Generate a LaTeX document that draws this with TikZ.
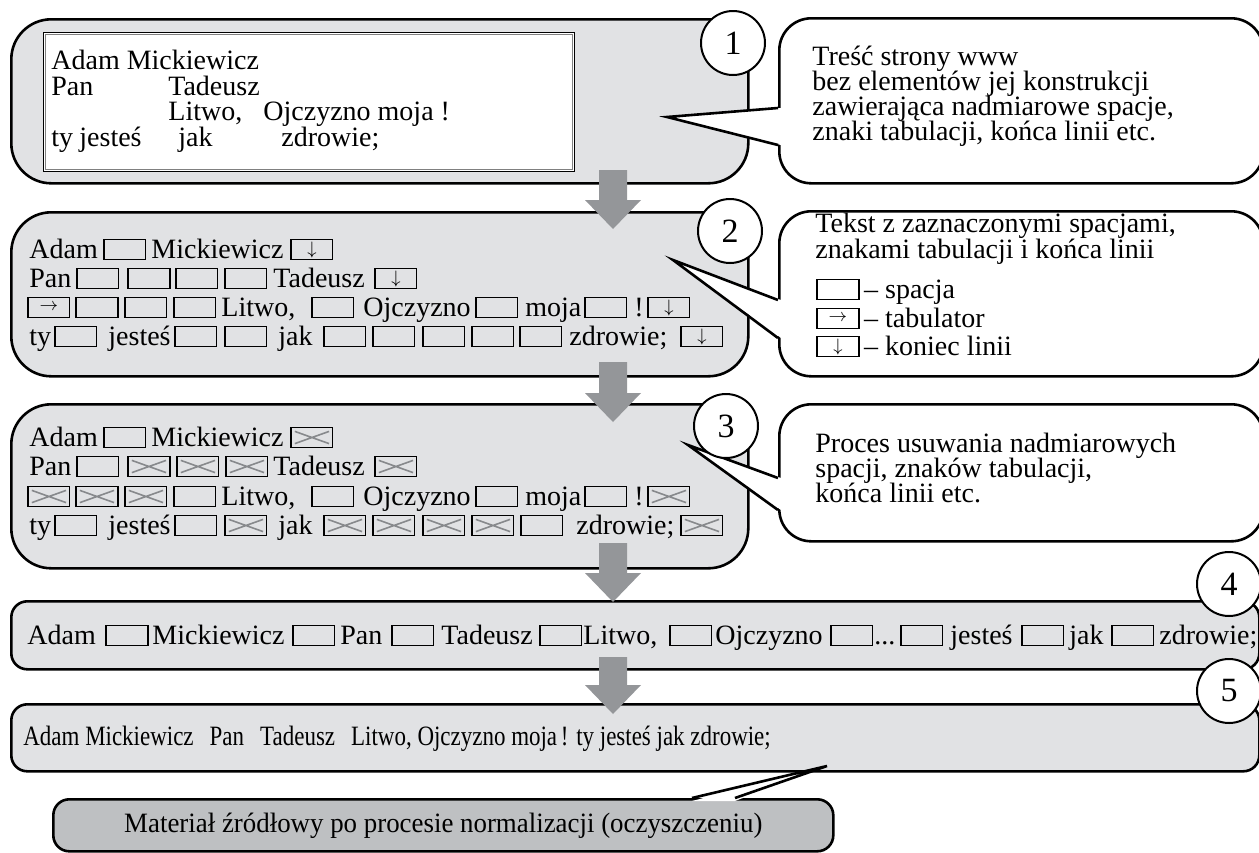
\documentclass[tikz,border=0pt]{standalone}
\usepackage{fontspec}
\usepackage{graphicx}
\setmainfont{Liberation Serif}
\usetikzlibrary{positioning}

\definecolor{panelgray}{RGB}{225,226,228}
\definecolor{arrowgray}{RGB}{148,150,153}
\definecolor{notegray}{RGB}{190,192,194}
\definecolor{crossgray}{RGB}{135,137,140}

% one pixel of the layout grid
\newlength\pxu \setlength\pxu{0.5pt}
\newcommand\putat[2]{\rlap{\hspace*{#1\pxu}#2}}
% marked characters
\newcommand\spcbox{\tikz[baseline=1pt]\draw[line width=0.65pt] (0.3pt,0.3pt) rectangle (21.2pt,10.2pt);}
\newcommand\delbox{\tikz[baseline=1pt]{\draw[line width=0.65pt] (0.3pt,0.3pt) rectangle (21.2pt,10.2pt);
  \draw[crossgray, line width=0.8pt] (2.2pt,8.3pt) -- (19.3pt,2.2pt) (2.2pt,2.2pt) -- (19.3pt,8.3pt);}}
\newcommand\tabkey{\tikz[baseline=1pt]{\draw[line width=0.65pt] (0.3pt,0.3pt) rectangle (21.2pt,10.2pt);
  \node[anchor=center, inner sep=0pt, font=\fontsize{9}{9}\selectfont] at (10.75pt,5.4pt) {$\rightarrow$};}}
\newcommand\eolkey{\tikz[baseline=1pt]{\draw[line width=0.65pt] (0.3pt,0.3pt) rectangle (21.2pt,10.2pt);
  \node[anchor=center, inner sep=0pt, font=\fontsize{9}{9}\selectfont] at (10.75pt,5.2pt) {$\downarrow$};}}

\begin{document}
\begin{tikzpicture}[x=0.5pt, y=-0.5pt, font=\fontsize{14}{13}\selectfont,
    panel/.style={draw, line width=1.3pt, fill=panelgray, inner sep=0pt, anchor=north west},
    note/.style={draw, line width=1.3pt, fill=white, rounded corners=16pt, inner sep=0pt, anchor=north west},
    num/.style={circle, draw, line width=1pt, fill=white, minimum size=32pt, inner sep=0pt, font=\fontsize{17}{17}\selectfont},
    rowtxt/.style={anchor=base west, inner sep=0pt},
    pointer/.style={line width=1.3pt}]
    \useasboundingbox (0,0) rectangle (1259,852);

    % panels
    \node[panel, rounded corners=20pt, minimum width=368.5pt, minimum height=82pt] (p1) at (10,18) {};
    \node[panel, rounded corners=20pt, minimum width=368.5pt, minimum height=82pt] (p2) at (10,211) {};
    \node[panel, rounded corners=20pt, minimum width=368.5pt, minimum height=82pt] (p3) at (10,403) {};
    \node[panel, rounded corners=8pt, minimum width=624pt, minimum height=34pt] (p4) at (10,600) {};
    \node[panel, rounded corners=8pt, minimum width=624pt, minimum height=33.5pt] (p5) at (10,703) {};

    \node[draw, line width=0.6pt, fill=white, anchor=north west, minimum width=265.5pt, minimum height=69.5pt] (src) at (43,32) {};
    \draw[gray, line width=0.4pt] ([shift={(1.2pt,-1.2pt)}]src.north west) rectangle ([shift={(-1.2pt,1.2pt)}]src.south east);

    % flow arrows
    \foreach \ya/\yb in {170/229, 362/422, 543/602, 657/714}
        \fill[arrowgray] (599,\ya) -- (627,\ya) -- (627,\yb-29) -- (641,\yb-29) -- (613,\yb) -- (585,\yb-29) -- (599,\yb-29) -- cycle;

    % callouts
    \node[note, minimum width=242pt, minimum height=82.5pt] (c1) at (778,17) {};
    \node[note, minimum width=242pt, minimum height=82.5pt] (c2) at (778,210) {};
    \node[note, minimum width=242pt, minimum height=68.5pt] (c3) at (778,403) {};
    \node[note, fill=notegray, rounded corners=8pt, minimum width=390pt, minimum height=26pt] (c4) at (52,798)
        {\scalebox{0.96}[1]{Materiał źródłowy po procesie normalizacji (oczyszczeniu)}};

    \fill[white] (781,108) -- (667,117) -- (781,145) -- cycle;
    \draw[pointer] (778,108) -- (667,117) -- (778,145);
    \fill[white] (781,300) -- (673,260) -- (781,338) -- cycle;
    \draw[pointer] (778,300) -- (673,260) -- (778,338);
    \fill[white] (781,478) -- (688,445) -- (781,510) -- cycle;
    \draw[pointer] (778,478) -- (688,445) -- (778,510);
    \fill[white] (692,801) -- (827,766) -- (735,801) -- cycle;
    \draw[pointer] (692,798) -- (827,766) -- (735,798);

    % step numbers
    \node[num] (n1) at (733,43) {1};
    \node[num] (n2) at (730,231) {2};
    \node[num] (n3) at (726,426) {3};
    \node[num] (n4) at (1229,584) {4};
    \node[num] (n5) at (1229,691) {5};

    % step 1
    \node[rowtxt] (r1a) at (0,69) {\putat{50}{Adam Mickiewicz}};
    \node[rowtxt] (r1b) at (0,95) {\putat{50}{Pan}\putat{167}{Tadeusz}};
    \node[rowtxt] (r1c) at (0,120) {\putat{167}{Litwo,}\putat{262}{Ojczyzno moja !}};
    \node[rowtxt] (r1d) at (0,146) {\putat{50}{ty}\putat{78}{jesteś}\putat{177}{jak}\putat{280}{zdrowie;}};

    % step 2
    \node[rowtxt] (r2a) at (0,258) {\putat{28}{Adam}\putat{102}{\spcbox}\putat{150}{Mickiewicz}\putat{289}{\eolkey}};
    \node[rowtxt] (r2b) at (0,287) {\putat{28}{Pan}\putat{75}{\spcbox}\putat{126}{\spcbox}\putat{174}{\spcbox}\putat{223}{\spcbox}\putat{272}{Tadeusz}\putat{373}{\eolkey}};
    \node[rowtxt] (r2c) at (0,316) {\putat{26}{\tabkey}\putat{74}{\spcbox}\putat{123}{\spcbox}\putat{172}{\spcbox}\putat{220}{Litwo,}\putat{310}{\spcbox}\putat{362}{Ojczyzno}\putat{474}{\spcbox}\putat{524}{moja}\putat{583}{\spcbox}\putat{633}{!}\putat{646}{\eolkey}};
    \node[rowtxt] (r2d) at (0,345) {\putat{28}{ty}\putat{53}{\spcbox}\putat{107}{jesteś}\putat{173}{\spcbox}\putat{223}{\spcbox}\putat{277}{jak}\putat{322}{\spcbox}\putat{371}{\spcbox}\putat{421}{\spcbox}\putat{470}{\spcbox}\putat{518}{\spcbox}\putat{568}{zdrowie;}\putat{679}{\eolkey}};

    % step 3
    \node[rowtxt] (r3a) at (0,446) {\putat{28}{Adam}\putat{102}{\spcbox}\putat{150}{Mickiewicz}\putat{289}{\delbox}};
    \node[rowtxt] (r3b) at (0,475) {\putat{28}{Pan}\putat{75}{\spcbox}\putat{126}{\delbox}\putat{175}{\delbox}\putat{224}{\delbox}\putat{272}{Tadeusz}\putat{373}{\delbox}};
    \node[rowtxt] (r3c) at (0,505) {\putat{26}{\delbox}\putat{74}{\delbox}\putat{123}{\delbox}\putat{172}{\spcbox}\putat{220}{Litwo,}\putat{310}{\spcbox}\putat{362}{Ojczyzno}\putat{474}{\spcbox}\putat{524}{moja}\putat{583}{\spcbox}\putat{633}{!}\putat{646}{\delbox}};
    \node[rowtxt] (r3d) at (0,534) {\putat{28}{ty}\putat{53}{\spcbox}\putat{107}{jesteś}\putat{173}{\spcbox}\putat{223}{\delbox}\putat{277}{jak}\putat{322}{\delbox}\putat{371}{\delbox}\putat{421}{\delbox}\putat{470}{\delbox}\putat{519}{\spcbox}\putat{575}{zdrowie;}\putat{679}{\delbox}};

    % step 4
    \node[rowtxt] (r4) at (0,644) {\putat{26}{Adam}\putat{104}{\spcbox}\putat{151}{Mickiewicz}\putat{291}{\spcbox}\putat{339}{Pan}\putat{390}{\spcbox}\putat{440}{Tadeusz}\putat{538}{\spcbox}\putat{582}{Litwo,}\putat{668}{\spcbox}\putat{714}{Ojczyzno}\putat{829}{\spcbox}\putat{873}{...}\putat{899}{\spcbox}\putat{949}{jesteś}\putat{1020}{\spcbox}\putat{1068}{jak}\putat{1110}{\spcbox}\putat{1158}{zdrowie;}};

    % step 5
    \node[rowtxt] (r5) at (23,745) {\scalebox{0.82}[1]{Adam Mickiewicz\hspace{0.45em} Pan\hspace{0.45em} Tadeusz\hspace{0.45em} Litwo, Ojczyzno moja\,! ty jesteś jak zdrowie;}};

    % callout texts
    \node[rowtxt] (c1a) at (812,65) {Treść strony www};
    \node[rowtxt] (c1b) at (812,90) {bez elementów jej konstrukcji};
    \node[rowtxt] (c1c) at (812,115) {zawierająca nadmiarowe spacje,};
    \node[rowtxt] (c1d) at (812,140) {znaki tabulacji, końca linii etc.};

    \node[rowtxt] (c2a) at (815,232) {Tekst z zaznaczonymi spacjami,};
    \node[rowtxt] (c2b) at (815,258) {znakami tabulacji i końca linii};
    \node[rowtxt] (c2c) at (816,298) {\spcbox\,– spacja};
    \node[rowtxt] (c2d) at (816,327) {\tabkey\,– tabulator};
    \node[rowtxt] (c2e) at (816,355) {\eolkey\,– koniec linii};

    \node[rowtxt] (c3a) at (815,452) {Proces usuwania nadmiarowych};
    \node[rowtxt] (c3b) at (815,477) {spacji, znaków tabulacji,};
    \node[rowtxt] (c3c) at (815,502) {końca linii etc.};
\end{tikzpicture}
\end{document}
